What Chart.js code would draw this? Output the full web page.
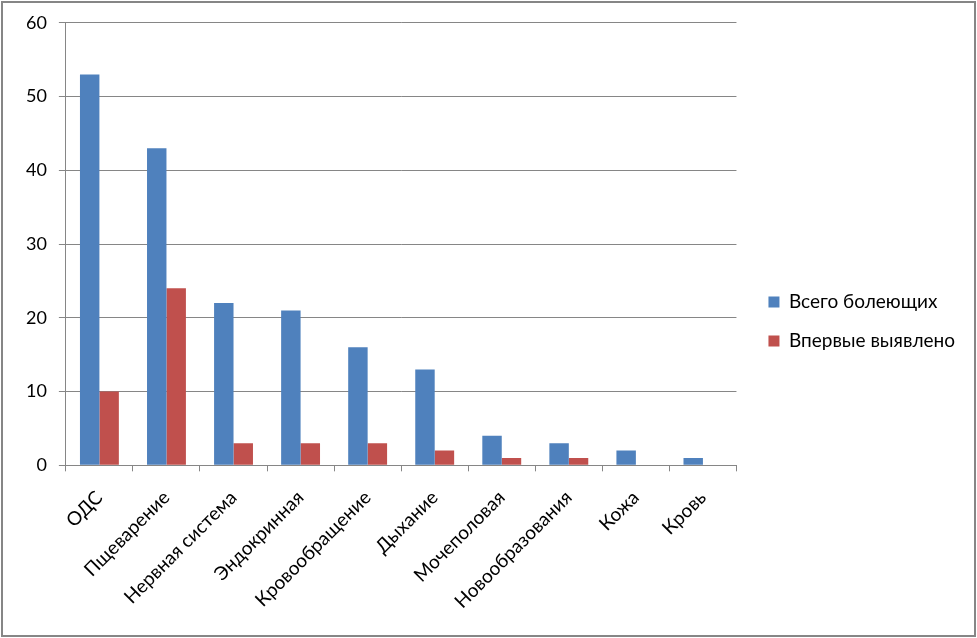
<!DOCTYPE html>
<html>
<head>
<meta charset="utf-8">
<script src="https://cdn.jsdelivr.net/npm/chart.js@4"></script>
<style>
  html, body { margin: 0; padding: 0; background: #fff; }
</style>
</head>
<body>
<canvas id="grafico" width="977" height="638"></canvas>
<script>
const categorias = ['ОДС', 'Пщеварение', 'Нервная система', 'Эндокринная', 'Кровообращение',
                    'Дыхание', 'Мочеполовая', 'Новообразования', 'Кожа', 'Кровь'];
const vsegoBoleyushchih = [53, 43, 22, 21, 16, 13, 4, 3, 2, 1];
const vpervyeVyyavleno = [10, 24, 3, 3, 3, 2, 1, 1, 0, 0];
const yMax = 60;
const yStep = 10;

const cinza = '#868686';

// moldura do grafico
const moldura = {
  id: 'moldura',
  beforeDraw(chart) {
    const c = chart.ctx;
    c.save();
    c.fillStyle = '#fff';
    c.fillRect(0, 0, chart.width, chart.height);
    c.strokeStyle = cinza;
    c.lineWidth = 2;
    c.strokeRect(2, 2, chart.width - 4, chart.height - 4);
    c.restore();
  }
};

// empurra a legenda um pouco pra direita e pra cima
const ajusteLegenda = {
  id: 'ajusteLegenda',
  afterLayout(chart) {
    const lg = chart.legend;
    lg.left += 12; lg.right += 12;
    lg.top -= 3; lg.bottom -= 3;
  }
};

Chart.defaults.font.family = 'Lato';
Chart.defaults.font.size = 19;
Chart.defaults.color = '#000';

new Chart(document.getElementById('grafico'), {
  type: 'bar',
  data: {
    labels: categorias,
    datasets: [{
      label: 'Всего болеющих',
      data: vsegoBoleyushchih,
      backgroundColor: '#4F81BD',
      categoryPercentage: 0.58,
      barPercentage: 1
    }, {
      label: 'Впервые выявлено',
      data: vpervyeVyyavleno,
      backgroundColor: '#C0504D',
      categoryPercentage: 0.58,
      barPercentage: 1
    }]
  },
  options: {
    responsive: false,
    animation: false,
    devicePixelRatio: 1,
    layout: { padding: { left: 14, top: 21, right: 24, bottom: 10 } },
    plugins: {
      tooltip: { enabled: false },
      legend: {
        position: 'right',
        labels: { boxWidth: 11, boxHeight: 11, padding: 20 }
      }
    },
    scales: {
      x: {
        grid: { drawOnChartArea: false, color: cinza, tickLength: 6 },
        border: { color: cinza },
        ticks: { minRotation: 45, maxRotation: 45, padding: 15 }
      },
      y: {
        min: 0,
        max: yMax,
        ticks: { stepSize: yStep, padding: 12, font: { size: 18 } },
        grid: { color: cinza, tickLength: 7 },
        border: { color: cinza }
      }
    }
  },
  plugins: [moldura, ajusteLegenda]
});
</script>
</body>
</html>
